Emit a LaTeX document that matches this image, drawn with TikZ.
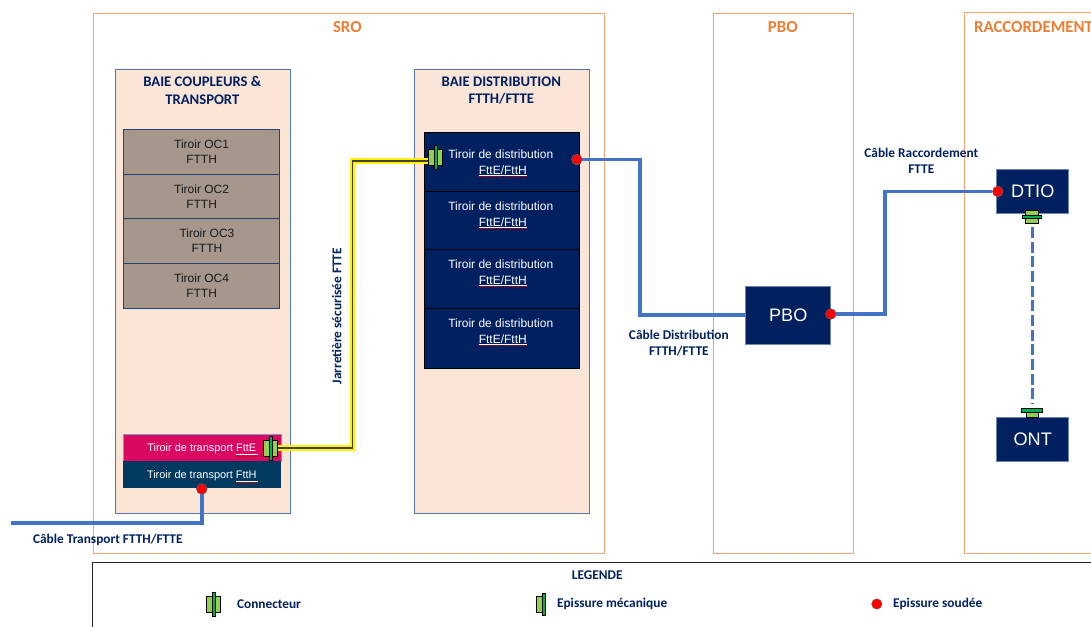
\documentclass[tikz,border=0pt]{standalone}
\usepackage{fontspec}
\setmainfont{Liberation Sans}
\newfontfamily\calib{Carlito}
\usetikzlibrary{decorations.pathmorphing,calc}
\definecolor{orangeL}{RGB}{244,164,112}
\definecolor{orangeT}{RGB}{237,125,49}
\definecolor{peach}{RGB}{251,229,214}
\definecolor{bayline}{RGB}{47,84,150}
\definecolor{navy}{RGB}{0,32,96}
\definecolor{taupe}{RGB}{166,151,140}
\definecolor{magentaT}{RGB}{219,8,98}
\definecolor{tealT}{RGB}{1,58,94}
\definecolor{cable}{RGB}{68,114,196}
\definecolor{lime}{RGB}{146,208,80}
\definecolor{dgreen}{RGB}{0,176,80}
\tikzset{
  x=0.75pt,y=-0.75pt,
  frame/.style={draw=orangeL,line width=0.75pt,fill=none},
  frametitle/.style={font=\calib\bfseries\fontsize{12.6}{14}\selectfont,text=orangeT,anchor=center,inner sep=0pt},
  bay/.style={draw=bayline!80,line width=0.6pt,fill=peach},
  baytitle/.style={font=\calib\bfseries\fontsize{11}{12.8}\selectfont,text=navy,align=center,inner sep=0pt},
  oc/.style={draw=bayline!80!black,line width=0.5pt,fill=taupe,minimum width=156*0.75pt,minimum height=44.5*0.75pt,inner sep=0pt,anchor=north west,
     font=\fontsize{9}{11.2}\selectfont,text=black!90,align=center},
  dist/.style={draw=black,line width=0.5pt,fill=navy,minimum width=155*0.75pt,minimum height=59*0.75pt,inner sep=0pt,anchor=north west},
  disttxt/.style={font=\fontsize{9}{11.2}\selectfont,text=white,align=center,inner sep=0pt},
  transp/.style={minimum width=158*0.75pt,minimum height=27*0.75pt,inner sep=0pt,anchor=north west},
  transptxt/.style={font=\fontsize{8.2}{10}\selectfont,text=white,inner sep=0pt},
  equip/.style={draw=bayline!70,line width=0.6pt,fill=navy,text=white,inner sep=0pt,font=\fontsize{13.6}{15}\selectfont,anchor=north west},
  lbl/.style={font=\calib\bfseries\fontsize{10}{12}\selectfont,text=navy,align=center,inner sep=0pt},
  weld/.style={circle,draw=black!60,line width=0.3pt,fill=red,minimum size=10.5*0.75pt,inner sep=0pt},
  cablel/.style={draw=cable,line width=2.8pt},
  wavy/.style={draw=red!80!black,line width=0.35pt,decorate,decoration={snake,amplitude=0.4pt,segment length=2.6pt}},
  ulin/.style={draw=white,line width=0.4pt},
  bar/.style={draw=black,line width=0.5pt,fill=dgreen},
  pad/.style={draw=black,line width=0.5pt,fill=lime},
}
\begin{document}
\begin{tikzpicture}
\useasboundingbox (0.2,0) rectangle (1091.2,627);
\clip (0.2,0) rectangle (1091.2,627);
% frames
\node[frame,minimum width=511*0.75pt,minimum height=540*0.75pt,inner sep=0pt,anchor=north west] (sro) at (93,13) {};
\node[frame,minimum width=140*0.75pt,minimum height=540*0.75pt,inner sep=0pt,anchor=north west] (pbof) at (713,13) {};
\draw[frame] (1100,13) -- (964.5,13) -- (964.5,553) -- (1100,553);
\node[frametitle] (t1) at (347.5,27) {SRO};
\node[frametitle] (t2) at (783,27) {PBO};
\node[frametitle,anchor=west] (t3) at (974,27) {RACCORDEMENT};
% bays
\node[bay,minimum width=175*0.75pt,minimum height=444*0.75pt,inner sep=0pt,anchor=north west] (b1) at (115,69) {};
\node[bay,minimum width=175*0.75pt,minimum height=444*0.75pt,inner sep=0pt,anchor=north west] (b2) at (414,69) {};
\node[baytitle] (bt1) at (202.5,90.5) {BAIE COUPLEURS \&\\TRANSPORT};
\node[baytitle] (bt2) at (501.5,90.5) {BAIE DISTRIBUTION\\FTTH/FTTE};
% OC
\node[oc] (oc1) at (123.5,129.5) {Tiroir OC1\\FTTH};
\node[oc] (oc2) at (123.5,174) {Tiroir OC2\\FTTH};
\node[oc] (oc3) at (123.5,218.5) {\hspace*{8pt}Tiroir OC3\\\hspace*{8pt}FTTH};
\node[oc] (oc4) at (123.5,263) {Tiroir OC4\\FTTH};
% distribution
\node[dist] (d1) at (424.5,132) {};
\node[dist] (d2) at (424.5,191) {};
\node[dist] (d3) at (424.5,249) {};
\node[dist,minimum height=60*0.75pt] (d4) at (424.5,308) {};
\foreach \y/\n in {154/a,206/b,264/c,323/d}{
  \node[disttxt] (dt\n) at (501,\y) {Tiroir de distribution};
  \node[disttxt] (du\n) at (503,\y+16) {FttE/FttH};
  \draw[ulin] ($(du\n.south west)+(0,0.5)$) -- ($(du\n.south east)+(0,0.5)$);
  \draw[wavy] ($(du\n.south west)+(0,2)$) -- ($(du\n.south)+(-1,2)$);
  \draw[wavy] ($(du\n.south)+(1,2)$) -- ($(du\n.south east)+(0,2)$);
}
% transport
\node[transp,fill=magentaT,draw=bayline!60,line width=0.5pt] (tr1) at (123,434) {};
\node[transp,fill=tealT] (tr2) at (123,461) {};
\node[transptxt] (trt1) at (202,449) {Tiroir de transport FttE};
\node[transptxt] (trt2) at (202,476) {Tiroir de transport FttH};
\draw[ulin] (236,454.5) -- (258,454.5);
\draw[ulin] (236,481.5) -- (258,481.5);
\draw[wavy] (236,456) -- (258,456);
\draw[wavy] (236,483) -- (258,483);
% equipment
\node[equip,minimum width=85*0.75pt,minimum height=58*0.75pt] (pbo) at (745.5,286) {PBO};
\node[equip,minimum width=72*0.75pt,minimum height=44*0.75pt] (dtio) at (996.5,169) {DTIO};
\node[equip,minimum width=72*0.75pt,minimum height=44*0.75pt] (ont) at (996.5,417) {ONT};
% anchors
\coordinate (cin) at (11,523);
\coordinate (pin) at (745.5,315);
\node[weld] (w1) at (202,489) {};
\node[weld] (w2) at (577,159.5) {};
\node[weld] (w3) at (831,314) {};
\node[weld] (w4) at (998,191.5) {};
\coordinate (c1) at (276,448);
\coordinate (c2) at (428,161);
% cables
\draw[cablel] (cin) -- (202,523) -- (w1);
\draw[cablel] (w2) -- (640.5,159.5) -- (640.5,315) -- (pin);
\draw[cablel] (w3) -- (885,314) -- (885,191.5) -- (w4);
% jarretiere
\draw[draw=yellow,line width=4pt] (c1) -- (353,448) -- (353,161) -- (c2);
\draw[draw=black!75,line width=1pt] (c1) -- (353,448) -- (353,161) -- (c2);
% dashed
\coordinate (dt) at (1032.5,227);
\coordinate (db) at (1032.5,404);
\draw[draw=cable,line width=2.7pt,dash pattern=on 8.2pt off 2.8pt] (dt) -- (db);
% redraw welds above cables
\node[weld] at (w1) {};
\node[weld] at (w2) {};
\node[weld] at (w3) {};
\node[weld] at (w4) {};
% connectors
\def\conn#1#2{%
  \filldraw[pad] (#1-7,#2-8) rectangle (#1+7,#2+8);
  \filldraw[bar] (#1-1.8,#2-12) rectangle (#1+1.8,#2+12);}
\conn{271}{448}
\conn{436}{157}
\conn{214}{604}
% DTIO bottom connector
\filldraw[pad] (1026,210) rectangle (1039,223);
\filldraw[bar] (1023,215) rectangle (1042,218);
% ONT top
\filldraw[pad] (1026.5,412) rectangle (1038.5,417);
\filldraw[bar] (1022,408) rectangle (1043,412);
% labels
\node[lbl,rotate=90] (l1) at (337,316) {Jarretière sécurisée FTTE};
\node[lbl] (l2) at (108,540) {Câble Transport FTTH/FTTE};
\node[lbl] (l3) at (679,343) {Câble Distribution\\FTTH/FTTE};
\node[lbl] (l4) at (921.5,161) {Câble Raccordement\\FTTE};
% legend
\draw[draw=black!85,line width=0.75pt] (93,640) -- (93,562) -- (1100,562);
\node[lbl] (lg) at (597.5,575) {LEGENDE};
\node[lbl,anchor=west] (lg1) at (237,604) {Connecteur};
\filldraw[pad] (537,596) rectangle (544,612);
\filldraw[bar] (543,593) rectangle (546,615);
\node[lbl,anchor=west] (lg2) at (557,604) {Epissure mécanique};
\node[weld] (lgw) at (877,604) {};
\node[lbl,anchor=west] (lg3) at (893,604) {Epissure soudée};
\end{tikzpicture}
\end{document}
